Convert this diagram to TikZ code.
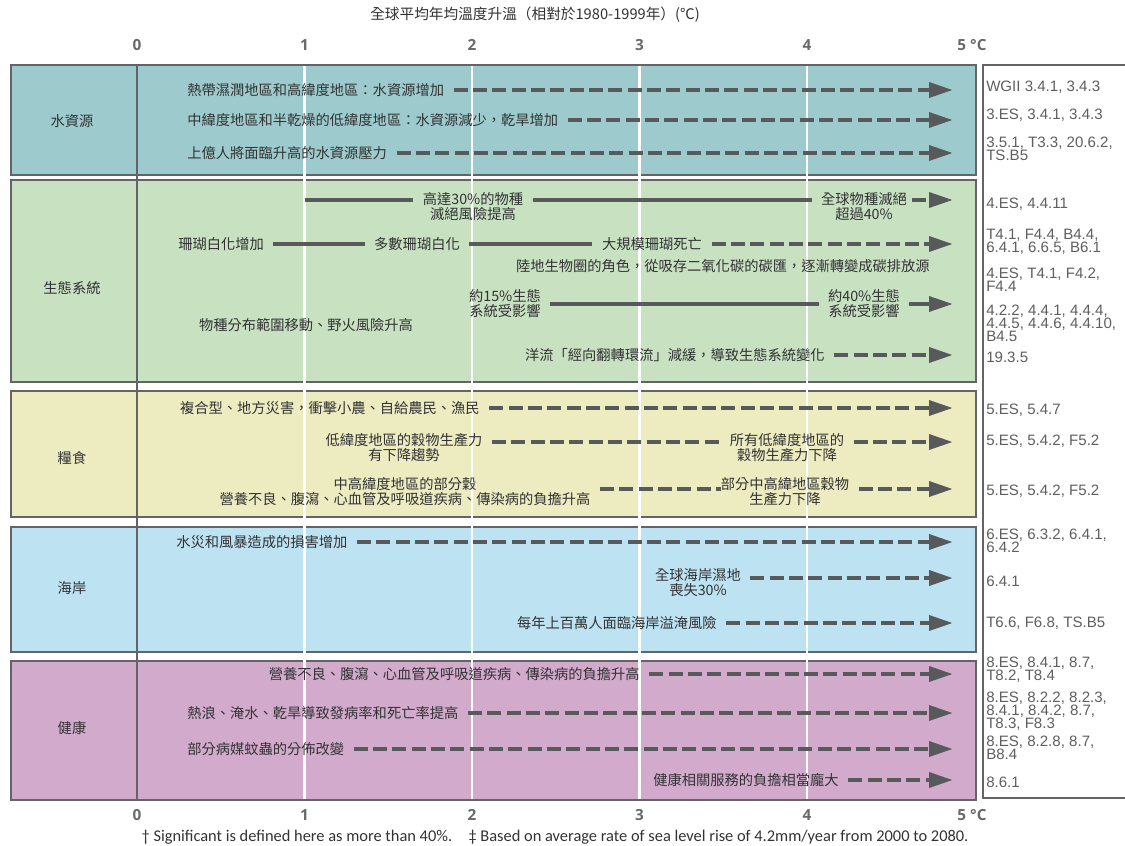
\documentclass[tikz,border=0pt]{standalone}
\usepackage{fontspec}
\setmainfont{Liberation Sans}
\newfontfamily\cjk{Noto Sans CJK TC}
\newfontfamily\notefont{Carlito}
\newfontfamily\axisfont{Open Sans}
\usetikzlibrary{arrows.meta}

\definecolor{waterc}{RGB}{157,203,205}
\definecolor{ecoc}{RGB}{199,225,193}
\definecolor{foodc}{RGB}{237,235,192}
\definecolor{coastc}{RGB}{189,226,241}
\definecolor{healthc}{RGB}{210,170,204}
\definecolor{bordergray}{RGB}{100,100,102}
\definecolor{arrowgray}{RGB}{88,89,91}
\definecolor{txtgray}{RGB}{50,50,52}
\definecolor{refgray}{RGB}{95,95,97}
\definecolor{axisgray}{RGB}{105,105,107}

\tikzset{
  panel/.style={draw=bordergray,line width=1.9pt},
  cat/.style={font=\cjk\fontsize{10.7}{12}\selectfont,text=txtgray,inner sep=0pt},
  lbl/.style={font=\cjk\fontsize{10.7}{11.25}\selectfont,text=txtgray,inner sep=0pt,align=center},
  ref/.style={font=\fontsize{11.3}{9.75}\selectfont,text=refgray,inner sep=0pt,anchor=west,align=left},
  ticklbl/.style={font=\axisfont\bfseries\fontsize{11.5}{12}\selectfont,text=axisgray},
  solidbar/.style={draw=arrowgray,line width=3.3pt},
  dashedbar/.style={solidbar,dash pattern=on 10.5pt off 4pt},
  arrowtip/.style={-{Triangle[length=18pt,width=11pt]}},
  gapl/.style={shorten <=7pt},
  gapr/.style={shorten >=7pt},
}

\begin{document}
\begin{tikzpicture}[x=0.75pt,y=-0.75pt]
\useasboundingbox (0,0) rectangle (1125,846);

% panels
\foreach \ptop/\pbot/\pcol in {65/175/waterc,180/382/ecoc,391/517/foodc,527/652/coastc,661/800/healthc}
  \draw[panel,fill=\pcol] (11,\ptop) rectangle (976,\pbot);
\draw[panel,fill=white] (983,65) rectangle (1140,798);
\foreach \x in {304.5,472,639.5,807}
  \draw[white,line width=1.6pt] (\x,66) -- (\x,799);
\draw[bordergray,line width=1.2pt] (137,65) -- (137,800);

% axis
\node[lbl,font=\cjk\fontsize{11}{12}\selectfont] (title) at (535,15) {全球平均年均溫度升溫（相對於1980-1999年）(℃)};
\foreach \t/\x in {0/137,1/304.5,2/472,3/639.5,4/807}{
  \node[ticklbl] (top\t) at (\x,45) {\t};
  \node[ticklbl] (bot\t) at (\x,815) {\t};
}
\node[ticklbl] (top5) at (972,45) {5 °C};
\node[ticklbl] (bot5) at (972,815) {5 °C};

% water
\node[cat] (c1) at (72,121) {水資源};
\node[lbl,anchor=west] (w1) at (187,90) {熱帶濕潤地區和高緯度地區：水資源增加};
\node[lbl,anchor=west] (w2) at (187,120) {中緯度地區和半乾燥的低緯度地區：水資源減少，乾旱增加};
\node[lbl,anchor=west] (w3) at (187,153) {上億人將面臨升高的水資源壓力};
\coordinate (w1t) at (953,90);
\coordinate (w2t) at (953,120);
\coordinate (w3t) at (953,153);
\draw[dashedbar,arrowtip,gapl] (w1.east) -- (w1t);
\draw[dashedbar,arrowtip,gapl] (w2.east) -- (w2t);
\draw[dashedbar,arrowtip,gapl] (w3.east) -- (w3t);

% ecosystems
\node[cat] (c2) at (72,288) {生態系統};
\coordinate (e1s) at (304.5,200);
\node[lbl] (e1a) at (473,207) {高達30\%的物種\\滅絕風險提高};
\node[lbl] (e1b) at (864,207) {全球物種滅絕\\超過40\%};
\coordinate (e1t) at (953,200);
\draw[solidbar,gapr] (e1s) -- (e1a.west |- e1s);
\draw[solidbar,gapl,gapr] (e1a.east |- e1s) -- (e1b.west |- e1s);
\draw[dashedbar,arrowtip,shorten <=4pt] (e1b.east |- e1s) -- (e1t);

\node[lbl,anchor=west] (e2a) at (178,244) {珊瑚白化增加};
\node[lbl] (e2b) at (417,244) {多數珊瑚白化};
\node[lbl] (e2c) at (652,244) {大規模珊瑚死亡};
\coordinate (e2t) at (953,244);
\draw[solidbar,gapl,gapr] (e2a) -- (e2b);
\draw[solidbar,gapl,gapr] (e2b) -- (e2c);
\draw[dashedbar,arrowtip,gapl] (e2c) -- (e2t);

\node[lbl,anchor=east] (e3) at (930,266) {陸地生物圈的角色，從吸存二氧化碳的碳匯，逐漸轉變成碳排放源};

\node[lbl] (e4a) at (505,304) {約15\%生態\\系統受影響};
\node[lbl] (e4b) at (864,304) {約40\%生態\\系統受影響};
\coordinate (e4t) at (953,304);
\draw[solidbar,gapl,gapr] (e4a) -- (e4b);
\draw[solidbar,arrowtip,gapl] (e4b) -- (e4t);

\node[lbl] (e5) at (306,325) {物種分布範圍移動、野火風險升高};

\node[lbl,anchor=east] (e6) at (825,355) {洋流「經向翻轉環流」減緩，導致生態系統變化};
\coordinate (e6t) at (953,355);
\draw[dashedbar,arrowtip,gapl] (e6) -- (e6t);

% food
\node[cat] (c3) at (72,458) {糧食};
\node[lbl,anchor=east] (f1) at (480,408) {複合型、地方災害，衝擊小農、自給農民、漁民};
\coordinate (f1t) at (953,408);
\draw[dashedbar,arrowtip,gapl] (f1) -- (f1t);

\coordinate (f2s) at (500,442);
\node[lbl] (f2a) at (404,448) {低緯度地區的穀物生產力\\有下降趨勢};
\node[lbl] (f2b) at (787,448) {所有低緯度地區的\\穀物生產力下降};
\coordinate (f2t) at (953,442);
\draw[dashedbar,gapl,gapr] (f2a.east |- f2s) -- (f2b.west |- f2s);
\draw[dashedbar,arrowtip,gapl] (f2b.east |- f2s) -- (f2t);

\coordinate (f3s) at (600,489);
\node[lbl] (f3a) at (405,492) {中高緯度地區的部分穀\\營養不良、腹瀉、心血管及呼吸道疾病、傳染病的負擔升高};
\node[lbl] (f3b) at (785,492) {部分中高緯地區穀物\\生產力下降};
\coordinate (f3t) at (953,489);
\draw[dashedbar,gapl] (f3a.east |- f3s) -- (f3b.west |- f3s);
\draw[dashedbar,arrowtip,gapl] (f3b.east |- f3s) -- (f3t);

% coasts
\node[cat] (c4) at (72,588) {海岸};
\node[lbl,anchor=west] (s1) at (176,542) {水災和風暴造成的損害增加};
\coordinate (s1t) at (953,542);
\draw[dashedbar,arrowtip,gapl] (s1) -- (s1t);

\coordinate (s2s) at (760,578);
\node[lbl] (s2) at (698,583) {全球海岸濕地\\喪失30\%};
\coordinate (s2t) at (953,578);
\draw[dashedbar,arrowtip,gapl] (s2.east |- s2s) -- (s2t);

\node[lbl,anchor=east] (s3) at (717,623) {每年上百萬人面臨海岸溢淹風險};
\coordinate (s3t) at (953,623);
\draw[dashedbar,arrowtip,gapl] (s3) -- (s3t);

% health
\node[cat] (c5) at (72,728) {健康};
\node[lbl,anchor=east] (h1) at (640,674) {營養不良、腹瀉、心血管及呼吸道疾病、傳染病的負擔升高};
\node[lbl,anchor=west] (h2) at (187,713) {熱浪、淹水、乾旱導致發病率和死亡率提高};
\node[lbl,anchor=west] (h3) at (187,749) {部分病媒蚊蟲的分佈改變};
\node[lbl,anchor=east] (h4) at (839,780) {健康相關服務的負擔相當龐大};
\coordinate (h1t) at (953,674);
\coordinate (h2t) at (953,713);
\coordinate (h3t) at (953,749);
\coordinate (h4t) at (953,780);
\draw[dashedbar,arrowtip,gapl] (h1) -- (h1t);
\draw[dashedbar,arrowtip,gapl] (h2) -- (h2t);
\draw[dashedbar,arrowtip,gapl] (h3) -- (h3t);
\draw[dashedbar,arrowtip,gapl] (h4) -- (h4t);

% references
\node[ref] (r1) at (986,87) {WGII 3.4.1, 3.4.3};
\node[ref] (r2) at (986,115) {3.ES, 3.4.1, 3.4.3};
\node[ref] (r3) at (986,148.5) {3.5.1, T3.3, 20.6.2,\\TS.B5};
\node[ref] (r4) at (986,204) {4.ES, 4.4.11};
\node[ref] (r5) at (986,242) {T4.1, F4.4, B4.4,\\6.4.1, 6.6.5, B6.1};
\node[ref] (r6) at (986,280) {4.ES, T4.1, F4.2,\\F4.4};
\node[ref] (r7) at (986,323) {4.2.2, 4.4.1, 4.4.4,\\4.4.5, 4.4.6, 4.4.10,\\B4.5};
\node[ref] (r8) at (986,357) {19.3.5};
\node[ref] (r9) at (986,410) {5.ES, 5.4.7};
\node[ref] (r10) at (986,441) {5.ES, 5.4.2, F5.2};
\node[ref] (r11) at (986,491) {5.ES, 5.4.2, F5.2};
\node[ref] (r12) at (986,541) {6.ES, 6.3.2, 6.4.1,\\6.4.2};
\node[ref] (r13) at (986,581) {6.4.1};
\node[ref] (r14) at (986,623) {T6.6, F6.8, TS.B5};
\node[ref] (r15) at (986,670) {8.ES, 8.4.1, 8.7,\\T8.2, T8.4};
\node[ref] (r16) at (986,711) {8.ES, 8.2.2, 8.2.3,\\8.4.1, 8.4.2, 8.7,\\T8.3, F8.3};
\node[ref] (r17) at (986,748) {8.ES, 8.2.8, 8.7,\\B8.4};
\node[ref] (r18) at (986,782) {8.6.1};

\node[font=\notefont\fontsize{12.3}{13}\selectfont,text=txtgray,inner sep=0pt] (note) at (555,837)
  {† Significant is defined here as more than 40\%.\quad ‡ Based on average rate of sea level rise of 4.2mm/year from 2000 to 2080.};
\end{tikzpicture}
\end{document}
